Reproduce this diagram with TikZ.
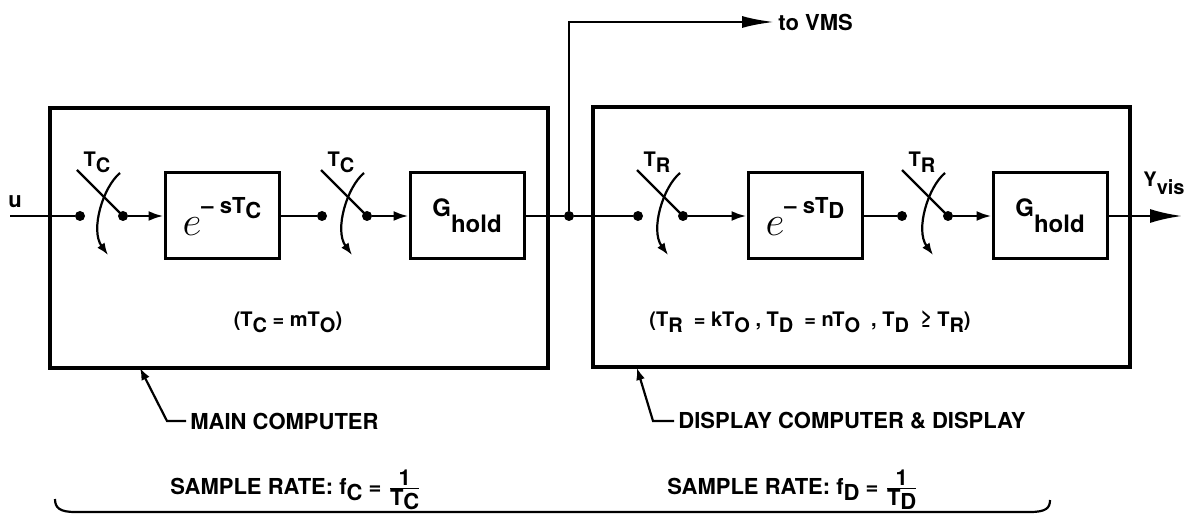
\documentclass[tikz,border=0pt]{standalone}
\usepackage{fontspec}
\setmainfont{TeX Gyre Heros}
\usepackage{tikz}
\usetikzlibrary{arrows.meta,calc}

\newcommand{\lowr}[2][3pt]{\raisebox{-#1}{#2}}
\newcommand{\expo}[1]{\raisebox{-4pt}{\fontsize{22}{22}\selectfont$e$}\raisebox{7pt}{\fontsize{11}{13}\selectfont-- sT\lowr[2.5pt]{#1}}}

\tikzset{
  compbox/.style={draw,line width=1.6pt,inner sep=0pt},
  blockbox/.style={draw,line width=1.5pt,minimum width=57pt,minimum height=43pt,inner sep=0pt,font=\bfseries\fontsize{12}{14}\selectfont},
  sdot/.style={circle,fill,inner sep=0pt,minimum size=5pt},
  sig/.style={line width=1.3pt},
  blade/.style={line width=1.1pt},
  small/.style={font=\bfseries\fontsize{10}{12}\selectfont},
}

\begin{document}
\begin{tikzpicture}[x=0.5pt,y=-0.5pt,>={Latex[length=7.5pt,width=5pt]},font=\bfseries\fontsize{11}{13}\selectfont]
  \useasboundingbox (0,0) rectangle (1197,517);
  % computers
  \node[compbox,minimum width=249pt,minimum height=130pt] (main) at (299,238) {};
  \node[compbox,minimum width=268.5pt,minimum height=130pt] (disp) at (861.5,237) {};
  % blocks
  \node[blockbox] (b1) at (222,216) {\expo{C}};
  \node[blockbox] (b2) at (467,216) {G\lowr[8pt]{hold}};
  \node[blockbox] (b3) at (805,216) {\expo{D}};
  \node[blockbox] (b4) at (1050,216) {G\lowr[8pt]{hold}};
  \foreach \n/\x in {d1/80,d2/123,d3/322,d4/367,d5/638,d6/683,d7/902,d8/948,jn/569}
    \node[sdot] (\n) at (\x,216) {};
  % signal path
  \coordinate (uin) at (10,216);
  \coordinate (yout) at (1182,216);
  \node (ulbl) at (15,202) {u};
  \node[small,anchor=base west,inner sep=0pt] (ylbl) at (1143,187) {Y\lowr[4pt]{vis}};
  \draw[sig] (uin) -- (d1);
  \draw[sig,->] (d2) -- (b1);
  \draw[sig] (b1) -- (d3);
  \draw[sig,->] (d4) -- (b2);
  \draw[sig] (b2) -- (jn) -- (d5);
  \draw[sig,->] (d6) -- (b3);
  \draw[sig] (b3) -- (d7);
  \draw[sig,->] (d8) -- (b4);
  \draw[sig,-{Latex[length=16pt,width=7pt]}] (b4) -- (yout);
  \node[anchor=west,inner sep=2pt] (vms) at (774,22) {to VMS};
  \draw[sig,-{Latex[length=16pt,width=6pt]}] (jn) |- (vms.west);
  % samplers
  \foreach \r/\s in {d2/C,d4/C,d6/R,d8/R}{
    \draw[blade] ($(\r)+(-46,-46)$) -- (\r.center);
    \draw[blade,-{Latex[length=6pt,width=4.5pt]}] ($(\r)+(-3,-43)$) .. controls ($(\r)+(-20,-29)$) and ($(\r)+(-33,14)$) .. ($(\r)+(-15,39)$);
    \node[small] (t\r) at ($(\r)+(-26,-54)$) {T\lowr{\s}};
  }
  \node[small] (ncomp) at (288,322) {(T\lowr{C} = mT\lowr{O})};
  \node[small] (ndisp) at (810,322) {(T\lowr{R}\ \ = kT\lowr{O} , T\lowr{D}\ \ = nT\lowr{O}\ \ , T\lowr{D}\ \ ≥ T\lowr{R})};
  % labels
  \node[anchor=west,inner sep=2pt] (mainlbl) at (186,421) {MAIN COMPUTER};
  \node[anchor=west,inner sep=2pt] (displbl) at (674,421) {DISPLAY COMPUTER \& DISPLAY};
  \coordinate (maintip) at (140,368);
  \coordinate (disptip) at (637,368);
  \draw[blade,-{Latex[length=6pt,width=4.5pt]}] (mainlbl.west) -- ++(-19,0) -- (maintip);
  \draw[blade,-{Latex[length=6pt,width=4.5pt]}] (displbl.west) -- ++(-21,0) -- (disptip);
  \node[anchor=base west,inner sep=0pt] (ratec) at (170,494) {SAMPLE RATE: f\lowr{C} = $\frac{\mbox{1}}{\mbox{T\lowr[2pt]{C}}}$};
  \node[anchor=base west,inner sep=0pt] (rated) at (667,494) {SAMPLE RATE: f\lowr{D} = $\frac{\mbox{1}}{\mbox{T\lowr[2pt]{D}}}$};
  \draw[blade] (55,499) .. controls (55,508) and (60,512) .. (75,512) -- (1030,512) .. controls (1046,512) and (1050,508) .. (1050,500);
\end{tikzpicture}
\end{document}
